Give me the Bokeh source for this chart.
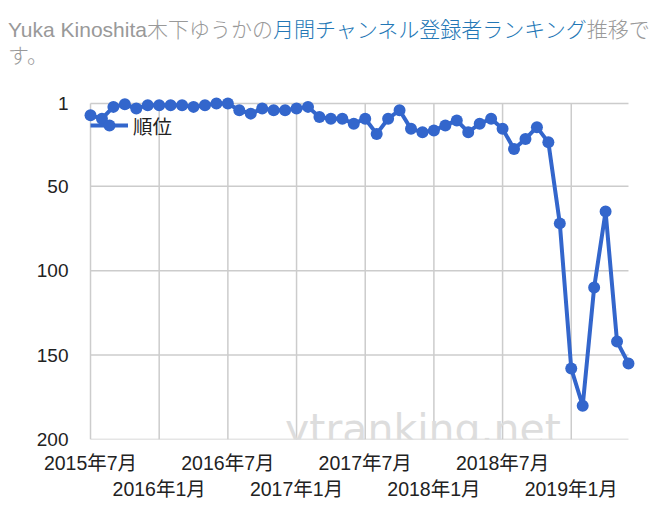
from bokeh.plotting import figure
from bokeh.models import Range1d, FixedTicker, LinearAxis, Div, ColumnDataSource, Legend, LegendItem
from bokeh.layouts import column
from bokeh.core.properties import value
from bokeh.embed import file_html
from bokeh.resources import INLINE

# ---- data ----
months = [
    "2015-07", "2015-08", "2015-09", "2015-10", "2015-11", "2015-12",
    "2016-01", "2016-02", "2016-03", "2016-04", "2016-05", "2016-06",
    "2016-07", "2016-08", "2016-09", "2016-10", "2016-11", "2016-12",
    "2017-01", "2017-02", "2017-03", "2017-04", "2017-05", "2017-06",
    "2017-07", "2017-08", "2017-09", "2017-10", "2017-11", "2017-12",
    "2018-01", "2018-02", "2018-03", "2018-04", "2018-05", "2018-06",
    "2018-07", "2018-08", "2018-09", "2018-10", "2018-11", "2018-12",
    "2019-01", "2019-02", "2019-03", "2019-04", "2019-05", "2019-06",
]
rank = [
    8, 10, 3, 1.5, 4, 2,
    2, 2, 2, 3, 2, 1,
    1, 5, 7, 4, 5, 5,
    4, 3, 9, 10, 10, 13,
    10, 19, 10, 5, 16, 18,
    17, 14, 11, 18, 13, 10,
    16, 28, 22, 15, 24, 72,
    158, 180, 110, 65, 142, 155,
]
series_name = "順位"
row1_months = ["2015-07", "2016-07", "2017-07", "2018-07"]
row1_labels = ["2015年7月", "2016年7月", "2017年7月", "2018年7月"]
row2_months = ["2016-01", "2017-01", "2018-01", "2019-01"]
row2_labels = ["2016年1月", "2017年1月", "2018年1月", "2019年1月"]
y_ticks = [1, 50, 100, 150, 200]
title_gray_1 = "Yuka Kinoshita木下ゆうかの"
title_link = "月間チャンネル登録者ランキング"
title_gray_2 = "推移で"
title_gray_3 = "す。"

FONT = "'Liberation Sans', 'Noto Sans CJK JP', sans-serif"
LINE_COLOR = "#3366cc"
GRID_COLOR = "#cccccc"
LABEL_COLOR = "#222222"

x_idx = list(range(len(months)))
src = ColumnDataSource(dict(x=x_idx, rank=rank, month=months))

row1_pos = [months.index(m) for m in row1_months]
row2_pos = [months.index(m) for m in row2_months]
all_pos = sorted(row1_pos + row2_pos)

title_html = (
    f"<div style=\"font-family:'Liberation Sans', 'Noto Sans CJK JP', sans-serif; font-weight:300; "
    f"font-size:21px; line-height:26px; color:#999999; padding-top:17px; padding-left:8px; "
    f"white-space:nowrap;\">"
    f"{title_gray_1}<span style=\"color:#2377b6;\">{title_link}</span>{title_gray_2}<br>{title_gray_3}</div>"
)
title_div = Div(text=title_html, width=668, height=70, margin=(0, 0, 0, 0))

# small padding around the data range so end markers are not clipped
x_pad = 0.7
y_pad = 4.146
p = figure(
    frame_width=554, frame_height=343,
    min_border_left=82, min_border_right=26, min_border_top=26, min_border_bottom=60,
    x_range=Range1d(x_idx[0] - x_pad, x_idx[-1] + x_pad),
    y_range=Range1d(y_ticks[-1], y_ticks[0] - y_pad),
    output_backend="svg", toolbar_location=None,
    background_fill_color="white", border_fill_color="white",
)
p.outline_line_color = None
p.xgrid.visible = False
p.ygrid.visible = False

# y axis
yax = p.yaxis[0]
yax.ticker = FixedTicker(ticks=y_ticks)
yax.axis_line_color = None
yax.major_tick_line_color = None
yax.minor_tick_line_color = None
yax.major_tick_out = 0
yax.major_tick_in = 0
yax.major_label_standoff = 14
yax.major_label_text_font = FONT
yax.major_label_text_font_size = "19px"
yax.major_label_text_color = LABEL_COLOR

# x axis row 1
xax = p.xaxis[0]
xax.ticker = FixedTicker(ticks=row1_pos)
xax.major_label_overrides = {pos: lab for pos, lab in zip(row1_pos, row1_labels)}
xax.axis_line_color = None
xax.major_tick_line_color = None
xax.minor_tick_line_color = None
xax.major_tick_out = 0
xax.major_tick_in = 0
xax.major_label_standoff = 12
xax.major_label_text_font = FONT
xax.major_label_text_font_size = "19.5px"
xax.major_label_text_color = LABEL_COLOR

# x axis row 2
xax2 = LinearAxis(
    ticker=FixedTicker(ticks=row2_pos),
    major_label_overrides={pos: lab for pos, lab in zip(row2_pos, row2_labels)},
    axis_line_color=None, major_tick_line_color=None, minor_tick_line_color=None,
    major_tick_out=0, major_tick_in=0, major_label_standoff=1,
    major_label_text_font=FONT, major_label_text_font_size="19.5px",
    major_label_text_color=LABEL_COLOR,
)
p.add_layout(xax2, "below")

# grid lines, spanning exactly the data range
p.segment(x0=[x_idx[0]] * len(y_ticks), x1=[x_idx[-1]] * len(y_ticks), y0=y_ticks, y1=y_ticks,
          line_color=GRID_COLOR, line_width=1.5)
p.segment(x0=all_pos, x1=all_pos, y0=[y_ticks[0]] * len(all_pos), y1=[y_ticks[-1]] * len(all_pos),
          line_color=GRID_COLOR, line_width=1.5)

# watermark
p.text(x=[17.0], y=[194], text=["ytranking.net"], text_font=value("DejaVu Sans"),
       text_font_size="41px", text_color="#dddddd", text_baseline="alphabetic", text_align="left")

line_r = p.line(x="x", y="rank", source=src, line_color=LINE_COLOR, line_width=4)
pt_r = p.scatter(x="x", y="rank", source=src, marker="circle", size=12,
                 fill_color=LINE_COLOR, line_color=None)

legend = Legend(
    items=[LegendItem(label=series_name, renderers=[line_r, pt_r])],
    location=(8, 299), padding=0, margin=0, spacing=0,
    glyph_width=38, glyph_height=30, label_height=30, label_standoff=5,
    label_text_font=FONT, label_text_font_size="19.5px", label_text_color=LABEL_COLOR,
    background_fill_alpha=0, border_line_color=None,
)
p.add_layout(legend)

layout = column(title_div, p, spacing=0)
open("out.html", "w").write(file_html(layout, INLINE))
